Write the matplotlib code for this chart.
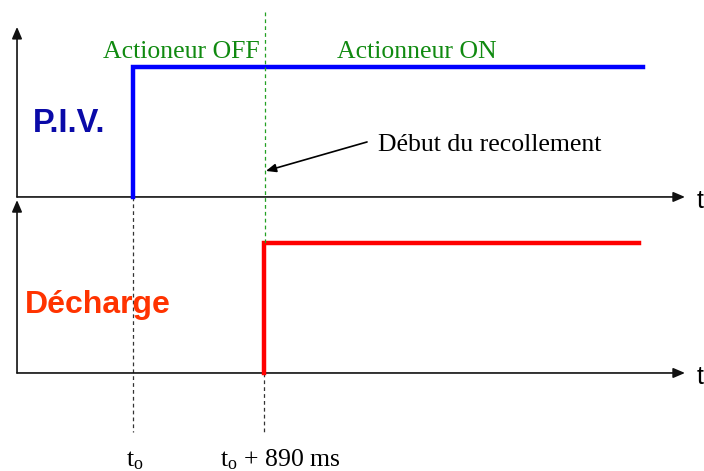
import matplotlib.pyplot as plt

plt.rcParams['mathtext.fontset'] = 'custom'
plt.rcParams['mathtext.rm'] = 'Liberation Serif'

# time in ms, t0 = 0
t_piv = [0, 0, 3465]
piv = [0, 1, 1]
t_dech = [890, 890, 3438]
dech = [0, 1, 1]
t_events = [0, 890]
event_labels = [r'$\mathregular{t_o}$', r'$\mathregular{t_o}$ + 890 ms']
state_labels = ['Actioneur OFF', 'Actionneur ON']
state_pos = [326, 1929]

top = 1.354          # baseline of the P.I.V. trace
t_axis = (-788, 3750)

fig = plt.figure(figsize=(7.04, 4.71), dpi=100)
ax = fig.add_axes([0, 0, 1, 1])
ax.set_xlim(-903.6, 3879.3)
ax.set_ylim(-0.754, 2.869)
ax.axis('off')

axis_col = '#111111'
arrow = dict(arrowstyle='-|>,head_length=0.7,head_width=0.3', color=axis_col,
             lw=1.2, shrinkA=0, shrinkB=0)
# time axes
for y0 in (top, 0):
    ax.annotate('', xy=(t_axis[1], y0), xytext=(t_axis[0], y0), arrowprops=arrow)
    ax.text(t_axis[1] + 80, y0 - 0.03, 't', fontsize=18, family='Liberation Sans',
            va='center', ha='left')
# vertical axes
ax.annotate('', xy=(t_axis[0], 2.662), xytext=(t_axis[0], top), arrowprops=arrow)
ax.annotate('', xy=(t_axis[0], 1.33), xytext=(t_axis[0], 0), arrowprops=arrow)

dash = (0, (3, 2.5))
# event markers
ax.plot([0, 0], [top, -0.454], color='#333333', lw=0.9, ls=dash, zorder=1)
ax.plot([890, 890], [0, -0.454], color='#333333', lw=0.9, ls=dash, zorder=1)
ax.plot([897, 897], [2.777, 1.0], color='#22a022', lw=0.9, ls=dash, zorder=4)

# signals
ax.plot(t_piv, [p + top for p in piv], color='#0000ff', lw=3.2,
        solid_joinstyle='miter', zorder=3)
ax.plot(t_dech, dech, color='#ff0000', lw=3.2, solid_joinstyle='miter', zorder=3)

for x, s in zip(state_pos, state_labels):
    ax.text(x, 2.423, s, color='#108a10', fontsize=18.5, family='Liberation Serif',
            ha='center', va='baseline')

ax.text(-679, 1.854, 'P.I.V.', color='#0a0aa8', fontsize=23.5, family='Liberation Sans',
        weight='bold', va='baseline')
ax.text(-734, 0.4615, 'Décharge', color='#ff3300', fontsize=23, family='Liberation Sans',
        weight='bold', va='baseline')

ax.annotate('', xy=(903, 1.554), xytext=(1590, 1.777),
            arrowprops=dict(arrowstyle='-|>,head_length=0.6,head_width=0.25',
                            color='black', lw=1.2, shrinkA=0, shrinkB=0))
ax.text(1665, 1.708, 'Début du recollement', fontsize=18.5, family='Liberation Serif',
        va='baseline')

ax.text(t_events[0] + 14, -0.715, event_labels[0], fontsize=18.5,
        family='Liberation Serif', ha='center', va='baseline')
ax.text(t_events[1] - 299, -0.715, event_labels[1], fontsize=18.5,
        family='Liberation Serif', ha='left', va='baseline')

fig.savefig('out.png', dpi=100)
